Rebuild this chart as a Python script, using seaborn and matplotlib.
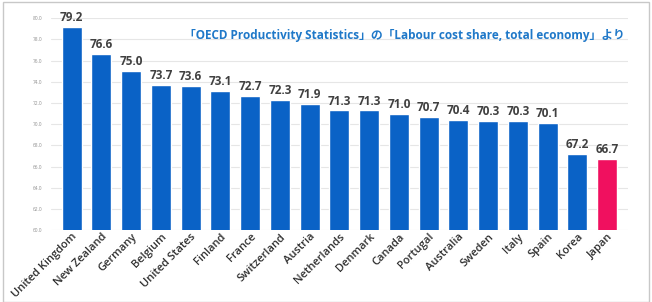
import matplotlib
matplotlib.use('Agg')
import matplotlib.pyplot as plt
import seaborn as sns
from matplotlib.patches import Rectangle
from matplotlib.ticker import FormatStrFormatter, MultipleLocator

# 労働分配率 (Labour cost share, total economy)
countries = ['United Kingdom', 'New Zealand', 'Germany', 'Belgium', 'United States',
             'Finland', 'France', 'Switzerland', 'Austria', 'Netherlands', 'Denmark',
             'Canada', 'Portugal', 'Australia', 'Sweden', 'Italy', 'Spain', 'Korea', 'Japan']
values = [79.2, 76.6, 75.0, 73.7, 73.6, 73.1, 72.7, 72.3, 71.9, 71.3, 71.3,
          71.0, 70.7, 70.4, 70.3, 70.3, 70.1, 67.2, 66.7]

blue = '#0a62c6'
pink = '#f0105f'
colors = [pink if c == 'Japan' else blue for c in countries]

sns.set_style('white')
plt.rcParams['font.family'] = ['Open Sans', 'Noto Sans CJK JP', 'DejaVu Sans']

fig = plt.figure(figsize=(6.52, 3.02), dpi=100)
ax = fig.add_axes([0.078, 0.238, 0.885, 0.702])

sns.barplot(x=countries, y=values, hue=countries, palette=colors, legend=False,
            width=0.67, saturation=1, ax=ax)

for c in ax.containers:
    ax.bar_label(c, fmt='%.1f', padding=2, fontsize=8.5, fontweight='bold', color='#404040')

ax.set_ylim(60, 80)
ax.set_xlim(-0.7, 18.7)
ax.yaxis.set_major_locator(MultipleLocator(2))
ax.yaxis.set_major_formatter(FormatStrFormatter('%.1f'))
ax.tick_params(axis='y', labelsize=3.5, labelcolor='#909090', length=0, pad=6)
ax.tick_params(axis='x', length=0, pad=1)
plt.setp(ax.get_xticklabels(), rotation=45, ha='right', rotation_mode='anchor',
         fontsize=8, fontweight='semibold', color='#303030')
ax.set_xlabel('')
ax.set_ylabel('')
ax.grid(axis='y', color='#e6e6e6', linewidth=0.8)
ax.set_axisbelow(True)
for s in ax.spines.values():
    s.set_visible(False)

ax.text(0.995, 0.92, '「OECD Productivity Statistics」の「Labour cost share, total economy」より',
        transform=ax.transAxes, ha='right', va='center', fontsize=8.5, fontweight='bold',
        color='#1f78c8', family=['Open Sans', 'Noto Sans CJK JP', 'DejaVu Sans'])

fig.patches.append(Rectangle((0.004, 0.0), 0.992, 0.995, transform=fig.transFigure,
                             fill=False, edgecolor='#c8c8c8', linewidth=1))

fig.savefig('out.png', dpi=100)
